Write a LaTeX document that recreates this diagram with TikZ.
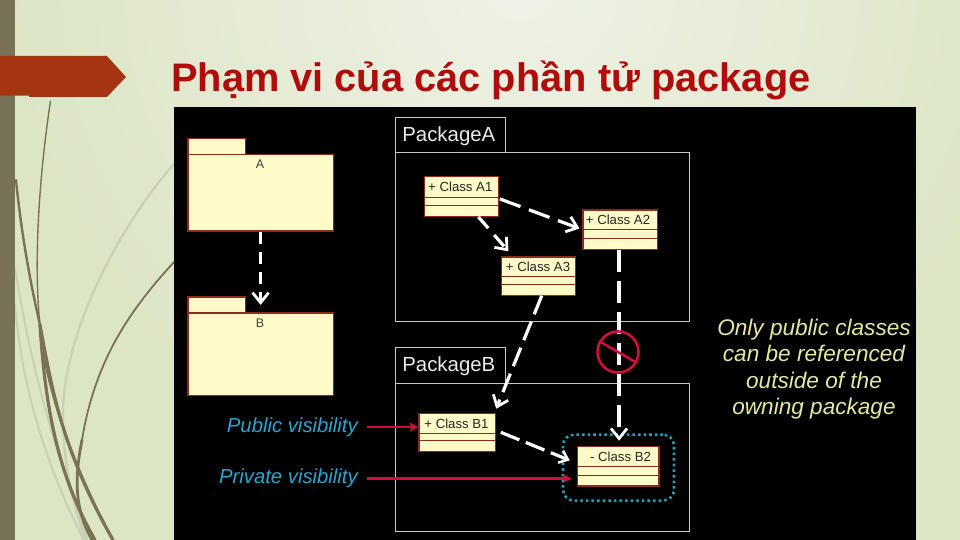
\documentclass[tikz,border=0pt]{standalone}
\usepackage{fontspec}
\setmainfont{Liberation Sans}
\usetikzlibrary{arrows.meta,calc}
\definecolor{barcol}{HTML}{7A7257}
\definecolor{rust}{HTML}{A33511}
\definecolor{titlered}{HTML}{B00C0C}
\definecolor{umlfill}{HTML}{FFFBC9}
\definecolor{umledge}{HTML}{8F2A1E}
\definecolor{alert}{HTML}{CF1038}
\definecolor{bluetext}{HTML}{2AA5CF}
\definecolor{dotblue}{HTML}{2B9DB5}
\definecolor{notecol}{HTML}{E6E7A2}
\definecolor{faint}{HTML}{C9D0B4}
\definecolor{bgA}{HTML}{EFF2E7}
\definecolor{bgB}{HTML}{DCE5C4}
\definecolor{pkgline}{HTML}{C8C8C8}
\tikzset{
  frameline/.style={draw=pkgline,line width=1pt,inner sep=0pt},
  umlbox/.style={draw=umledge,fill=umlfill,line width=1.2pt,inner sep=0pt},
  wdash/.style={draw=white,line width=3.2pt},
  barb/.style={-{Straight Barb[length=10pt,width=16pt,line width=2.8pt]}},
  redarrow/.style={draw=alert,line width=2.6pt,-{Stealth[length=9pt,width=9pt]}},
  vislabel/.style={text=bluetext,font=\itshape\fontsize{20.3}{23}\selectfont,inner sep=0pt},
  classlabel/.style={text=black!85,font=\fontsize{13.2}{15}\selectfont,inner sep=0pt},
  pkgtitle/.style={text=white!92!black,font=\fontsize{20.4}{23}\selectfont,inner sep=0pt},
  grass/.style={draw=barcol,line cap=round},
  faintgrass/.style={draw=faint,line cap=round}
}
% name, x0, y0, x1, y1, line1, line2, label, label x
\newcommand{\classrect}[9]{%
  \node[umlbox,minimum width=#4pt-#2pt,minimum height=#5pt-#3pt,anchor=north west] (#1) at (#2,#3) {};
  \draw[draw=umledge,line width=1pt] (#1.west |- 0,#6) -- (#1.east |- 0,#6);
  \draw[draw=umledge,line width=1pt] (#1.west |- 0,#7) -- (#1.east |- 0,#7);
  \node[classlabel] (#1t) at (#9,{(#3+#6)/2+0.5}) {#8};
}
\begin{document}
\begin{tikzpicture}[x=1pt,y=-1pt]
\useasboundingbox (0,0) rectangle (960,540);
% background
\begin{scope}
\clip (0,0) rectangle (960,540);
\fill[bgB] (0,0) rectangle (960,540);
\shade[inner color=bgA,outer color=bgB] (520,-20) circle (520);
\end{scope}
% grass
\draw[faintgrass,line width=2pt] (15,268) .. controls (28,350) and (50,440) .. (88,540);
\draw[faintgrass,line width=2pt] (15,305) .. controls (22,390) and (48,470) .. (84,540);
\draw[faintgrass,line width=2.2pt] (174,164) .. controls (120,225) and (65,330) .. (63,410) .. controls (62,450) and (70,500) .. (86,540);
\draw[grass,line width=1.4pt] (50.5,101) .. controls (40,170) and (33,260) .. (40,325);
\draw[grass,line width=2pt] (40,325) .. controls (45,390) and (75,470) .. (113,540);
\draw[grass,line width=2.4pt] (16,180) .. controls (22,240) and (32,290) .. (40,325);
\draw[grass,line width=3.2pt] (40,325) .. controls (52,390) and (62,450) .. (113,540);
\draw[grass,line width=3.2pt] (40,325) .. controls (45,400) and (55,470) .. (95,540);
\draw[grass,line width=1.8pt] (174,262) .. controls (130,310) and (95,360) .. (82,440);
\draw[grass,line width=2.8pt] (82,440) .. controls (74,480) and (75,510) .. (92,540);
% left bar
\fill[barcol] (0,0) rectangle (15,540);
% banner
\fill[rust] (0,56) -- (107,56) -- (126,77) -- (107,97) -- (29,97) -- (29,95.7) -- (0,95.7) -- cycle;
% title
\node[anchor=base west,text=titlered,font=\bfseries\fontsize{39.8}{44}\selectfont,inner sep=0pt] (title) at (171,92) {Phạm vi của các phần tử package};
% black panel
\fill[black] (174,107) rectangle (916,540);
% package icons
\node[umlbox,minimum width=57.4pt,minimum height=16pt,anchor=north west] (tabA) at (187.3,137.7) {};
\node[umlbox,minimum width=145.4pt,minimum height=76.6pt,anchor=north west] (pkgA) at (187.3,153.7) {};
\node[umlbox,minimum width=57.4pt,minimum height=16pt,anchor=north west] (tabB) at (187.3,296.3) {};
\node[umlbox,minimum width=145.4pt,minimum height=82.7pt,anchor=north west] (pkgB) at (187.3,312.3) {};
\node[classlabel,text=black!75,font=\fontsize{12.5}{14}\selectfont] (lblA) at (260,164.5) {A};
\node[classlabel,text=black!75,font=\fontsize{12.5}{14}\selectfont] (lblB) at (260,323.5) {B};
% package frames
\node[frameline,minimum width=110pt,minimum height=35pt,anchor=north west] (tabPA) at (394.5,117) {};
\node[frameline,minimum width=294pt,minimum height=168.7pt,anchor=north west] (bodyPA) at (394.5,152) {};
\node[pkgtitle] (namePA) at (448.8,136) {PackageA};
\node[frameline,minimum width=110pt,minimum height=36pt,anchor=north west] (tabPB) at (394.5,346.7) {};
\node[frameline,minimum width=294pt,minimum height=148.3pt,anchor=north west] (bodyPB) at (394.5,382.7) {};
\node[pkgtitle] (namePB) at (448.8,366) {PackageB};
% classes
\classrect{a1}{423.7}{176.3}{497.7}{215.7}{197}{205.7}{+ Class A1}{460.3}
\classrect{a2}{582.3}{209.3}{656.7}{248.7}{229.3}{238.7}{+ Class A2}{618}
\classrect{a3}{501}{256.3}{575}{294.5}{276}{284.7}{+ Class A3}{538}
\classrect{b1}{418.3}{412.7}{495}{451}{433.7}{440.7}{+ Class B1}{456.5}
\classrect{b2}{576.7}{445.7}{658.3}{485.3}{466.7}{475}{- Class B2}{620.5}
% dotted highlight
\node[draw=dotblue,line width=2.6pt,dash pattern=on 2.6pt off 3pt,rounded corners=11pt,minimum width=111pt,minimum height=66pt,anchor=north west,inner sep=0pt] (hilite) at (561.7,433.3) {};
% dependencies
\draw[wdash,barb,dash pattern=on 12pt off 8pt] (pkgA.south) -- (tabB.east -| pkgA.south);
\draw[wdash,barb,dash pattern=on 22pt off 9pt,shorten <=1pt,shorten >=3pt] (a1.-3) -- (a2.west);
\draw[wdash,barb,dash pattern=on 15pt off 9pt] (a1.-50) -- ($(a3.150)+(4,-5)$);
\draw[wdash,barb,dash pattern=on 20pt off 8pt] (a3.-81) -- ($(b1.north east)+(0,-4)$);
\draw[wdash,barb,dash pattern=on 22pt off 9pt] (a2.-93) -- ($(a2.-93 |- b2.north)+(0,-5)$);
\draw[wdash,dash pattern=on 20pt off 7pt,shorten <=5pt,-{Straight Barb[length=8pt,width=13pt,line width=2.4pt]},shorten >=7.5pt] (b1.3) -- (b2.176.5);
% prohibition
\node[circle,draw=alert,line width=2.6pt,minimum size=41pt,inner sep=0pt] (forbid) at (618,352) {};
\draw[draw=alert,line width=2.6pt] (forbid.150) -- (forbid.-30);
% visibility callouts
\node[vislabel,anchor=east] (pub) at (358,427) {Public visibility};
\node[vislabel,anchor=east] (pri) at (358,478.5) {Private visibility};
\draw[redarrow,shorten <=8.7pt] (pub.east) -- (pub.east -| b1.west);
\draw[redarrow,shorten <=8.7pt,shorten >=5pt] (pri.east) -- (pri.east -| b2.west);
% note
\node[text=notecol,font=\itshape\fontsize{22.6}{26.4}\selectfont,align=center,inner sep=0pt] (note) at (814,369) {Only public classes\\can be referenced\\outside of the\\owning package};
\end{tikzpicture}
\end{document}
